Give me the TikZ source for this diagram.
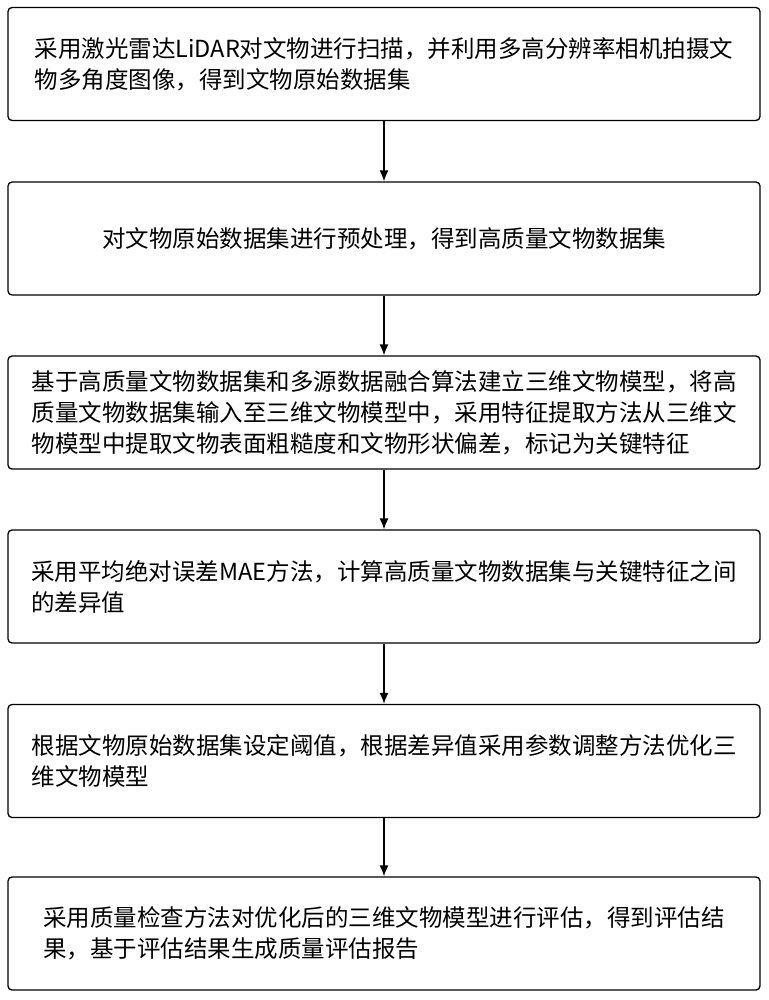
\documentclass[tikz,border=0pt]{standalone}
\usepackage{fontspec}
\setmainfont{Noto Sans CJK SC}
\begin{document}
\begin{tikzpicture}[x=1pt,y=-1pt,
  stepbox/.style={draw,line width=1.3pt,rounded corners=4pt,minimum width=752pt,minimum height=113pt,align=left,font=\fontsize{23.5}{31}\selectfont},
  arr/.style={-{Latex[length=11pt,width=9pt]},line width=1.3pt}]
\usetikzlibrary{arrows.meta}
\useasboundingbox (0,0) rectangle (768,1000);
\node[stepbox] (b1) at (384,64) {采用激光雷达LiDAR对文物进行扫描，并利用多高分辨率相机拍摄文\\物多角度图像，得到文物原始数据集};
\node[stepbox] (b2) at (384,238.5) {对文物原始数据集进行预处理，得到高质量文物数据集};
\node[stepbox] (b3) at (384,412.5) {基于高质量文物数据集和多源数据融合算法建立三维文物模型，将高\\质量文物数据集输入至三维文物模型中，采用特征提取方法从三维文\\物模型中提取文物表面粗糙度和文物形状偏差，标记为关键特征};
\node[stepbox] (b4) at (384,586.5) {采用平均绝对误差MAE方法，计算高质量文物数据集与关键特征之间\\的差异值};
\node[stepbox] (b5) at (384,761) {根据文物原始数据集设定阈值，根据差异值采用参数调整方法优化三\\维文物模型};
\node[stepbox] (b6) at (384,933.5) {采用质量检查方法对优化后的三维文物模型进行评估，得到评估结\\果，基于评估结果生成质量评估报告};
\draw[arr] (b1) -- (b2);
\draw[arr] (b2) -- (b3);
\draw[arr] (b3) -- (b4);
\draw[arr] (b4) -- (b5);
\draw[arr] (b5) -- (b6);
\end{tikzpicture}
\end{document}
